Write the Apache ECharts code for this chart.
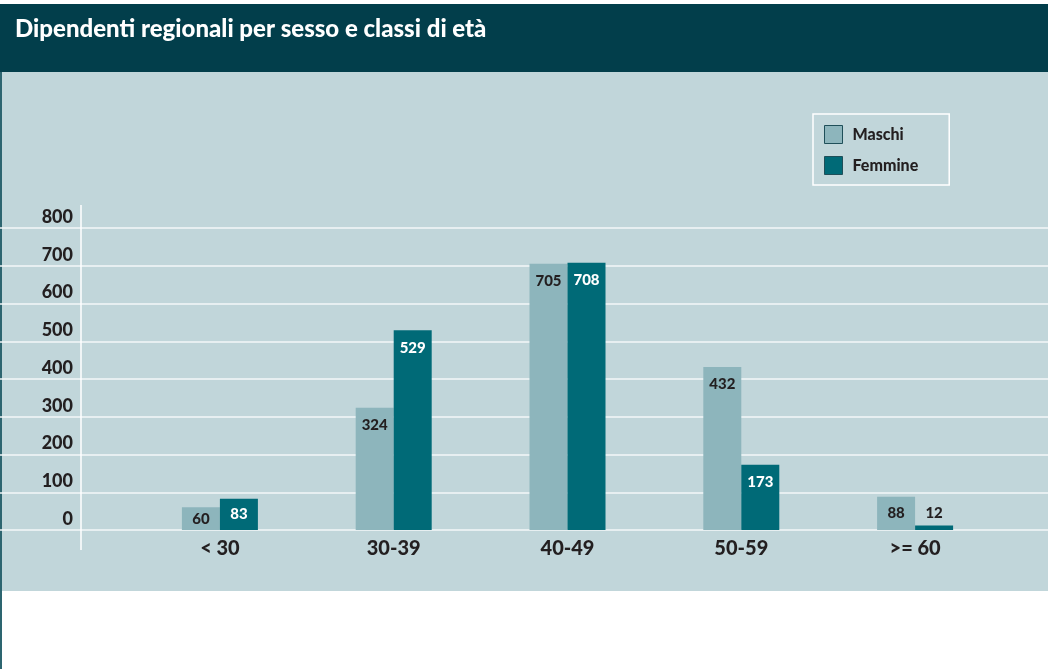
<!DOCTYPE html>
<html>
<head>
<meta charset="utf-8">
<script src="https://cdn.jsdelivr.net/npm/echarts@6/dist/echarts.min.js"></script>
<style>
  html, body { margin: 0; padding: 0; background: #fff; }
  #chart { width: 1048px; height: 669px; }
</style>
</head>
<body>
<div id="chart"></div>
<script>
// dati
const categories = ['< 30', '30-39', '40-49', '50-59', '>= 60'];
const maschi = [60, 324, 705, 432, 88];
const femmine = [83, 529, 708, 173, 12];
const yMin = 0, yMax = 800, yStep = 100;

const FONT = 'Lato';
const WEIGHT = 900;
const dark = '#231f20';

// etichette: dentro la barra, al centro se bassa, sopra se troppo piccola
function barData(values, textColor) {
  return values.map(v => {
    let pos = 'insideTop', color = textColor;
    if (v < 40) { pos = 'top'; color = dark; }
    else if (v < 100) pos = 'inside';
    return {
      value: v,
      label: { position: pos, color: color, distance: pos === 'top' ? 5 : 10 }
    };
  });
}

const chart = echarts.init(document.getElementById('chart'));

const option = {
  backgroundColor: '#ffffff',
  animation: false,
  textStyle: { fontFamily: FONT },
  title: {
    text: 'Dipendenti regionali per sesso e classi di età',
    left: 10, top: 12,
    textStyle: { color: '#ffffff', fontSize: 24, fontWeight: WEIGHT, fontFamily: FONT }
  },
  graphic: [
    { type: 'rect', z: -10, shape: { x: 0, y: 4, width: 1048, height: 68 }, style: { fill: '#023e4b' } },
    { type: 'rect', z: -10, shape: { x: 0, y: 72, width: 1048, height: 519 }, style: { fill: '#c1d6da' } },
    { type: 'rect', z: -9, shape: { x: 0, y: 72, width: 2, height: 597 }, style: { fill: '#2d6570' } },
    { type: 'line', z: 5, shape: { x1: 81, y1: 205, x2: 81, y2: 550 }, style: { stroke: '#ffffff', lineWidth: 1.5 } }
  ],
  legend: {
    orient: 'vertical',
    left: 813, top: 114,
    padding: [11, 31, 10, 11],
    itemGap: 12,
    itemWidth: 18, itemHeight: 18,
    borderColor: '#ffffff', borderWidth: 1.5,
    icon: 'rect',
    itemStyle: { borderColor: '#1f4f59', borderWidth: 1 },
    textStyle: { fontFamily: FONT, fontWeight: WEIGHT, fontSize: 16, color: dark, padding: [0, 0, 0, 5] },
    data: ['Maschi', 'Femmine']
  },
  grid: [
    // griglia a tutta larghezza per le linee orizzontali
    { left: 0, right: 0, top: 228, bottom: 139 },
    // griglia delle barre
    { left: 133, right: 46, top: 228, bottom: 139 }
  ],
  xAxis: [
    { gridIndex: 0, type: 'category', data: categories, show: false },
    {
      gridIndex: 1, type: 'category', data: categories,
      axisLine: { show: false }, axisTick: { show: false },
      axisLabel: { margin: 9, color: dark, fontSize: 20, fontWeight: WEIGHT, fontFamily: FONT }
    }
  ],
  yAxis: [
    {
      gridIndex: 0, type: 'value', min: yMin, max: yMax, interval: yStep,
      axisLine: { show: false }, axisTick: { show: false }, axisLabel: { show: false },
      splitLine: { lineStyle: { color: '#f3f7f8', width: 1.5 } }
    },
    {
      gridIndex: 1, type: 'value', min: yMin, max: yMax, interval: yStep,
      axisLine: { show: false }, axisTick: { show: false }, splitLine: { show: false },
      axisLabel: {
        margin: 60, color: dark, fontSize: 18, fontWeight: WEIGHT, fontFamily: FONT,
        verticalAlign: 'bottom', padding: [0, 0, 2, 0]
      }
    }
  ],
  series: [
    {
      name: 'Maschi', type: 'bar', xAxisIndex: 1, yAxisIndex: 1,
      barWidth: 38, barGap: '0%',
      itemStyle: { color: '#8db5bc' },
      label: { show: true, fontSize: 15, fontWeight: WEIGHT, fontFamily: FONT },
      data: barData(maschi, dark)
    },
    {
      name: 'Femmine', type: 'bar', xAxisIndex: 1, yAxisIndex: 1,
      barWidth: 38, barGap: '0%',
      itemStyle: { color: '#006a77' },
      label: { show: true, fontSize: 15, fontWeight: WEIGHT, fontFamily: FONT },
      data: barData(femmine, '#ffffff')
    }
  ]
};

chart.setOption(option);
</script>
</body>
</html>
